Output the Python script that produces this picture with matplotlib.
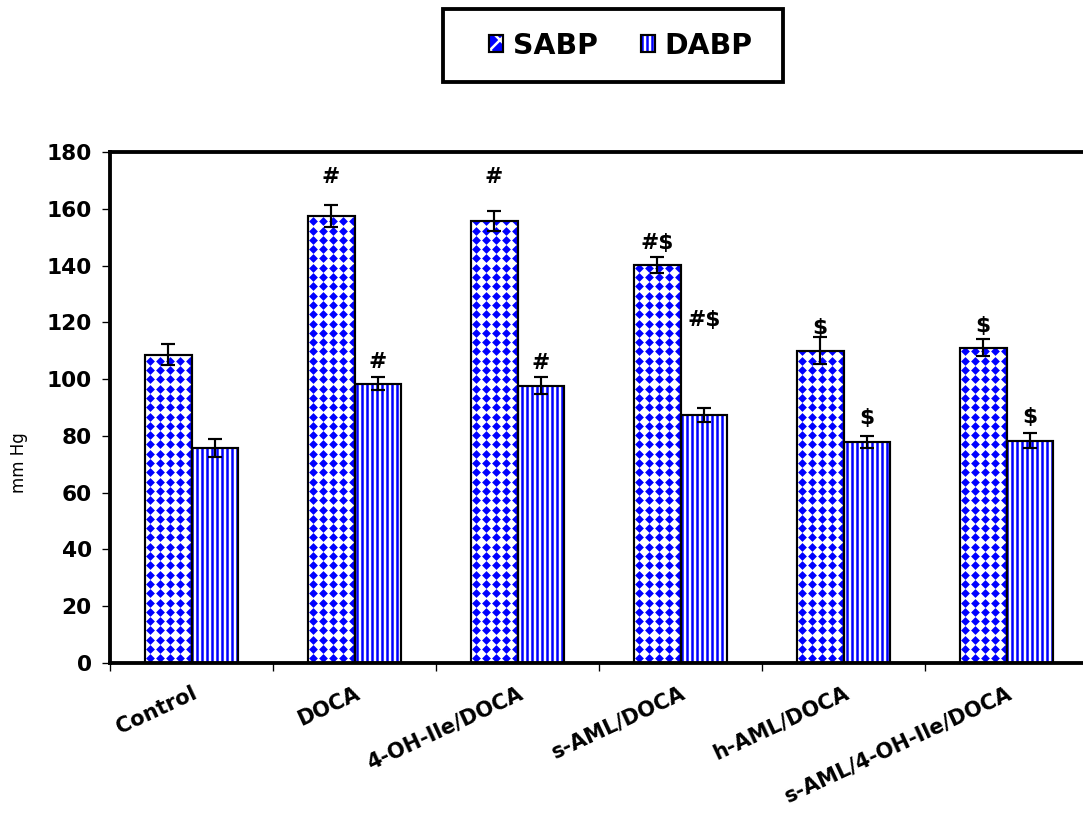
import numpy as np
import matplotlib.pyplot as plt
from matplotlib.patches import Rectangle, Patch

# Csoportok és mért értékek (mm Hg)
groups = ["Control", "DOCA", "4-OH-Ile/DOCA", "s-AML/DOCA", "h-AML/DOCA", "s-AML/4-OH-Ile/DOCA"]
sabp = [108.5, 157.4, 155.6, 140.2, 110.0, 111.0]
sabp_err = [3.7, 3.9, 3.6, 2.8, 4.8, 3.0]
dabp = [75.7, 98.3, 97.6, 87.4, 77.9, 78.3]
dabp_err = [3.2, 2.3, 3.0, 2.5, 2.1, 2.7]

# Szignifikancia jelölések és magasságuk
sabp_marks = ["", "#", "#", "#$", "$", "$"]
sabp_mark_y = [0, 171.2, 171.2, 148.0, 118.0, 118.7]
dabp_marks = ["", "#", "#", "#$", "$", "$"]
dabp_mark_y = [0, 106.0, 105.7, 120.8, 86.3, 86.6]

blue = "#0000ff"
x = np.arange(len(groups))
w = 0.288

fig = plt.figure(figsize=(9.025, 6.775), dpi=120)
ax = fig.add_axes([0.10157, 0.18450, 0.90305, 0.62854])
ax.set_xlim(-0.5, len(groups) - 0.5)
ax.set_ylim(0, 180)

# SABP: fehér oszlop kék rombusz mintával (a mintát az oszlopra vágjuk)
s_bars = ax.bar(x - w / 2, sabp, w, facecolor="white", linewidth=0, zorder=2)
p0 = ax.transData.transform((0, 0))
p1 = ax.transData.transform((1, 1))
dx = 10 / (p1[0] - p0[0])   # 10 px oszlopköz
dy = 9.3 / (p1[1] - p0[1])  # 9.3 px sorköz
for b in s_bars:
    gx = np.arange(b.get_x() + dx / 2, b.get_x() + b.get_width() + dx / 2, dx)
    gy = np.arange(dy / 2, b.get_height() + dy / 2, dy)
    mx, my = np.meshgrid(gx, gy)
    sc = ax.scatter(mx.ravel(), my.ravel(), marker="D", s=14, color=blue, linewidths=0, zorder=2.5)
    sc.set_clip_path(b)
s_out = ax.bar(x - w / 2, sabp, w, fill=False, edgecolor="black", linewidth=1.3, zorder=3)

# DABP: kék függőleges csíkozás
plt.rcParams["hatch.linewidth"] = 1.5
d_bars = ax.bar(x + w / 2, dabp, w, facecolor="white", edgecolor=blue, linewidth=0, hatch="||||", zorder=2)
d_out = ax.bar(x + w / 2, dabp, w, fill=False, edgecolor="black", linewidth=1.3, zorder=3)

ax.errorbar(x - w / 2, sabp, yerr=sabp_err, fmt="none", ecolor="black",
            elinewidth=1.3, capsize=4, capthick=1.3, zorder=4)
ax.errorbar(x + w / 2, dabp, yerr=dabp_err, fmt="none", ecolor="black",
            elinewidth=1.3, capsize=4, capthick=1.3, zorder=4)

for i in range(len(groups)):
    if sabp_marks[i]:
        ax.text(x[i] - w / 2, sabp_mark_y[i], sabp_marks[i], ha="center", va="center",
                fontsize=13, fontweight="bold")
    if dabp_marks[i]:
        ax.text(x[i] + w / 2, dabp_mark_y[i], dabp_marks[i], ha="center", va="center",
                fontsize=13, fontweight="bold")

ax.set_yticks(np.arange(0, 181, 20))
ax.set_xticks(x)
ax.set_xticklabels(groups, rotation=25, ha="right", va="top", rotation_mode="anchor",
                   fontsize=12.5, fontweight="bold")
ax.set_xticks(np.arange(-0.5, len(groups), 1), minor=True)
ax.tick_params(axis="x", which="major", length=0, pad=12)
ax.tick_params(axis="x", which="minor", length=5, width=0.8, direction="out")
ax.tick_params(axis="y", length=5, width=0.8, direction="out", pad=6)
for lab in ax.get_yticklabels():
    lab.set_fontsize(13)
    lab.set_fontweight("bold")

for side in ["left", "top", "bottom"]:
    ax.spines[side].set_linewidth(2.3)
ax.spines["right"].set_visible(False)

ax.set_ylabel("mm Hg", fontsize=10)
ax.yaxis.set_label_coords(-0.084, 0.393)

# Jelmagyarázat keretben a diagram felett
fig.add_artist(Rectangle((443 / 1083, 1 - 82 / 813), 340 / 1083, 73 / 813,
                         transform=fig.transFigure, fill=False, edgecolor="black", linewidth=2.3))
s_handle = Patch(facecolor=blue, edgecolor="white", hatch="xx", linewidth=0)
outline_handle = Patch(fill=False, edgecolor="black", linewidth=1.3)
fig.legend([(s_handle, outline_handle), (d_bars[0], d_out[0])], ["SABP", "DABP"],
           loc="center", bbox_to_anchor=(621 / 1083, 1 - 45.5 / 813), ncol=2, frameon=False,
           prop={"size": 17, "weight": "bold"}, handlelength=0.5, handleheight=0.5,
           handletextpad=0.35, columnspacing=1.5)

fig.savefig("out.png", dpi=120)
